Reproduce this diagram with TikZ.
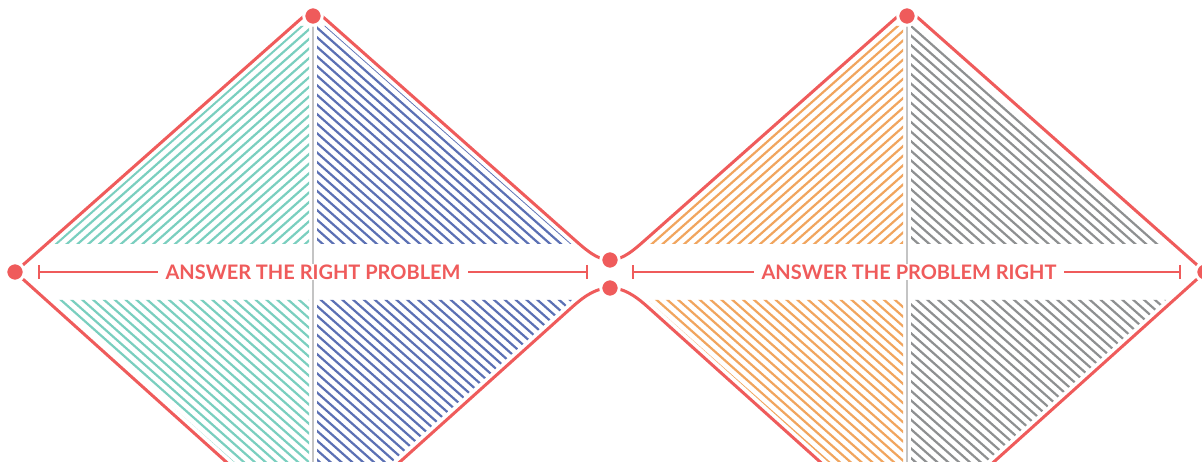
\documentclass[tikz,border=0pt]{standalone}
\usepackage{fontspec}
\setmainfont{Lato}
\usetikzlibrary{arrows.meta}
\definecolor{myred}{HTML}{EF5B5B}
\definecolor{myteal}{HTML}{7ACFBF}
\definecolor{myblue}{HTML}{5B70B4}
\definecolor{myorange}{HTML}{F1A55E}
\definecolor{mygray}{HTML}{8E9091}
\definecolor{vgray}{HTML}{C4C4C4}
\newcommand\hatchup[2]{%
  \begin{scope}\clip #2;
    \foreach \k in {0,...,140} \draw[hatchline,#1] (0,{-100+9.6*\k}) -- ++(1300,-1152);
  \end{scope}}
\newcommand\hatchdn[2]{%
  \begin{scope}\clip #2;
    \foreach \k in {0,...,160} \draw[hatchline,#1] (0,{-1050+9.6*\k}) -- ++(1300,1152);
  \end{scope}}
\begin{document}
\begin{tikzpicture}[x=1pt,y=-1pt,
  outline/.style={draw=myred, line width=3, line cap=round},
  hatchline/.style={line width=2.2},
  dot/.style={circle, fill=myred, draw=white, line width=3, minimum size=18.5, inner sep=0},
  divider/.style={draw=vgray, line width=2},
  lbl/.style={fill=white, text=myred, font=\bfseries\fontsize{20}{20}\selectfont, inner xsep=8, inner ysep=0.5},
  dimline/.style={draw=myred, line width=2, {Bar[width=14pt]}-{Bar[width=14pt]}}]
\useasboundingbox (0,0) rectangle (1202,462);
\clip (0,0) rectangle (1202,462);
\fill[white] (0,0) rectangle (1202,462);

% hatching, left diamond
\hatchup{myteal}{(54.6,244) -- (309,244) -- (309,26) -- (300.7,26) -- cycle}
\hatchdn{myblue}{(317,26) -- (325.3,26) -- (571.4,244) -- (317,244) -- cycle}
\hatchdn{myteal}{(54,300) -- (309,300) -- (309,470) -- (243,470) -- cycle}
\hatchdn{myblue}{(317,300) -- (572,300) -- (383,470) -- (317,470) -- cycle}
% hatching, right diamond
\hatchup{myorange}{(903,26) -- (894.7,26) -- (648.6,244) -- (903,244) -- cycle}
\hatchdn{mygray}{(911,26) -- (919.3,26) -- (1165.4,244) -- (911,244) -- cycle}
\hatchdn{myorange}{(648,300) -- (903,300) -- (903,470) -- (837,470) -- cycle}
\hatchdn{mygray}{(911,300) -- (1166,300) -- (977,470) -- (911,470) -- cycle}

% dot positions and corner points
\coordinate (pL) at (15,272);
\coordinate (pT1) at (313,16);
\coordinate (pM1) at (610,260);
\coordinate (pM2) at (610,288);
\coordinate (pT2) at (907,16);
\coordinate (pR) at (1205,272);
\coordinate (v1) at (313,8);
\coordinate (v2) at (907,8);

% dividers
\draw[divider] (pT1) -- (313,470);
\draw[divider] (pT2) -- (907,470);

% outlines
\draw[outline] (pL) -- (295,24) .. controls (v1) .. (331,24) -- (572,237.5) .. controls (586,249.9) and (597,260) .. (pM1);
\draw[outline] (pL) -- (313,540) -- (572,307.2) .. controls (586,294.6) and (597,288) .. (pM2);
\draw[outline] (pM1) .. controls (623,260) and (634,249.9) .. (648,237.5) -- (889,24) .. controls (v2) .. (925,24) -- (pR);
\draw[outline] (pM2) .. controls (623,288) and (634,294.6) .. (648,307.2) -- (907,540) -- (pR);

% dimension lines and labels
\coordinate (a1) at (38,272);
\coordinate (b1) at (588,272);
\coordinate (a2) at (632,272);
\coordinate (b2) at (1181,272);
\draw[dimline] (a1) -- (b1);
\draw[dimline] (a2) -- (b2);
\node[lbl] (lab1) at (313,272) {ANSWER THE RIGHT PROBLEM};
\node[lbl] (lab2) at (909,272) {ANSWER THE PROBLEM RIGHT};

% dots
\node[dot] (dL) at (pL) {};
\node[dot] (dT1) at (pT1) {};
\node[dot] (dM1) at (pM1) {};
\node[dot] (dM2) at (pM2) {};
\node[dot] (dT2) at (pT2) {};
\node[dot] (dR) at (pR) {};
\end{tikzpicture}
\end{document}
